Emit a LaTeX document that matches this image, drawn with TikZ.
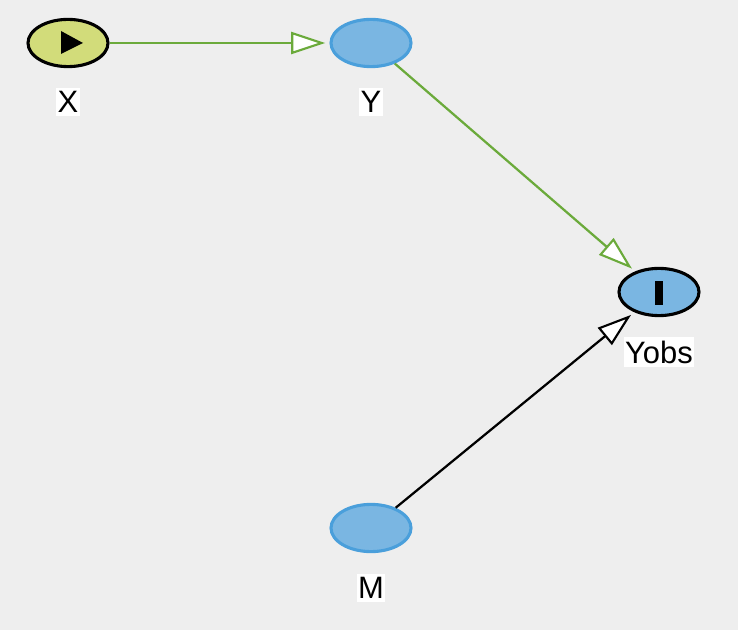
\documentclass[tikz,border=0pt]{standalone}
\usepackage{fontspec}
\setmainfont{Liberation Sans}
\usepackage{xcolor}
\usetikzlibrary{positioning, arrows.meta, shapes.geometric}

\definecolor{bgcol}{HTML}{EEEEEE}
\definecolor{edgegreen}{HTML}{6BAA3B}
\definecolor{nodeblue}{HTML}{7AB6E2}
\definecolor{nodeblueline}{HTML}{4A9FDB}
\definecolor{expofill}{HTML}{D2DC7A}

\begin{document}
\begin{tikzpicture}[
    x=0.025cm, y=-0.025cm,
    every node/.style={font=\fontsize{22}{26}\selectfont},
    var/.style={ellipse, draw=#1, line width=2.2pt, minimum width=2.0cm, minimum height=1.18cm, inner sep=0pt},
    var/.default=nodeblueline,
    latent/.style={var, fill=nodeblue},
    expo/.style={var=black, fill=expofill},
    outc/.style={var=black, fill=nodeblue},
    lbl/.style={fill=white, inner xsep=1pt, inner ysep=2.5pt},
    arr/.style={-{Triangle[open, fill=white, length=0.85cm, width=0.55cm, line width=1.5pt]}, line width=1.6pt, shorten >=3pt},
    causal/.style={arr, edgegreen},
]
    \fill[bgcol] (0,0) rectangle (738,630);
    \useasboundingbox (0,0) rectangle (738,630);

    \node[expo]   (X)    at (68, 43)  {};
    \node[latent] (Y)    at (371, 43) {};
    \node[outc]   (Yobs) at (659, 292) {};
    \node[latent] (M)    at (371, 528) {};

    \node[lbl] (Xlbl)    at (68, 102)  {X};
    \node[lbl] (Ylbl)    at (371, 102) {Y};
    \node[lbl] (Yobslbl) at (659, 352) {Yobs};
    \node[lbl] (Mlbl)    at (371, 588) {M};

    % marks inside exposure and outcome
    \fill[black] (61,31) -- (61,54) -- (83,43) -- cycle;
    \fill[black] (655,281) rectangle (663,305);

    \draw[causal] (X)  -- (Y);
    \draw[causal] (Y)  -- (Yobs);
    \draw[arr]    (M)  -- (Yobs);
\end{tikzpicture}
\end{document}
